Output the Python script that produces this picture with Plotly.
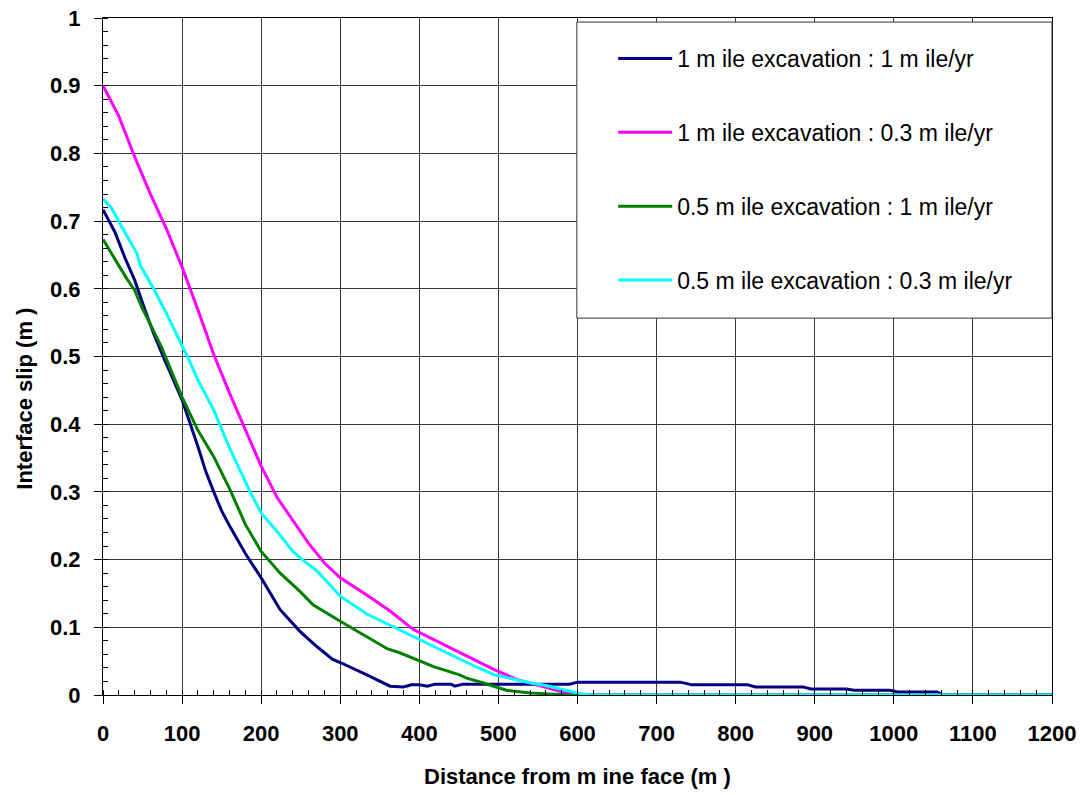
import plotly.graph_objects as go

# Interface slip versus distance from the mine face, four excavation scenarios
dist_1mi_1 = [0, 15, 28, 40, 53, 64, 76, 100, 120, 130, 140, 150, 160, 180, 200,
              224, 249, 270, 290, 300, 333, 350, 363, 380, 390, 400, 410, 420, 440,
              445, 455, 590, 600, 730, 745, 815, 825, 885, 895, 940, 950, 995, 1005,
              1055, 1062, 1200]
slip_1mi_1 = [0.717, 0.684, 0.645, 0.613, 0.569, 0.534, 0.500, 0.436, 0.367,
              0.330, 0.300, 0.272, 0.250, 0.209, 0.173, 0.126, 0.094, 0.072, 0.053,
              0.048, 0.030, 0.021, 0.013, 0.012, 0.015, 0.015, 0.013, 0.016, 0.016,
              0.013, 0.016, 0.016, 0.019, 0.019, 0.015, 0.015, 0.012, 0.012, 0.009,
              0.009, 0.007, 0.007, 0.0045, 0.0045, 0.0, 0.0]

dist_1mi_03 = [0, 20, 40, 60, 80, 100, 120, 140, 160, 180, 200, 220, 240,
               260, 280, 300, 333, 363, 392, 426, 460, 494, 523, 553, 586, 600, 1200]
slip_1mi_03 = [0.900, 0.855, 0.795, 0.740, 0.689, 0.632, 0.569, 0.503,
               0.446, 0.391, 0.338, 0.292, 0.258, 0.224, 0.195, 0.173, 0.148, 0.124,
               0.097, 0.077, 0.057, 0.038, 0.023, 0.013, 0.003, 0.0, 0.0]

dist_05mi_1 = [0, 15, 30, 40, 49, 57, 74, 80, 100, 120, 140, 160, 180, 200, 224, 249,
               266, 300, 333, 360, 376, 418, 450, 460, 480, 494, 510, 540, 570, 590,
               1200]
slip_05mi_1 = [0.673, 0.643, 0.615, 0.598, 0.573, 0.554, 0.514, 0.497, 0.440, 0.391,
               0.352, 0.305, 0.252, 0.212, 0.180, 0.153, 0.133, 0.109, 0.087, 0.068,
               0.062, 0.042, 0.030, 0.025, 0.018, 0.013, 0.007, 0.003, 0.001, 0.0,
               0.0]

dist_05mi_03 = [0, 11, 24, 43, 47, 64, 80, 95, 108, 120, 140, 160, 186, 200, 224,
                240, 255, 270, 300, 333, 368, 400, 435, 460, 494, 540, 560, 580, 600,
                615, 1200]
slip_05mi_03 = [0.733, 0.719, 0.691, 0.652, 0.635, 0.600, 0.564, 0.529, 0.497, 0.465,
                0.421, 0.365, 0.300, 0.269, 0.236, 0.212, 0.197, 0.184, 0.146, 0.120,
                0.100, 0.082, 0.062, 0.048, 0.030, 0.018, 0.014, 0.008, 0.003, 0.0,
                0.0]

series_names = [
    "1 m ile excavation : 1 m ile/yr",
    "1 m ile excavation : 0.3 m ile/yr",
    "0.5 m ile excavation : 1 m ile/yr",
    "0.5 m ile excavation : 0.3 m ile/yr",
]
series_colors = ["#000080", "#FF00FF", "#008000", "#00FFFF"]
series_x = [dist_1mi_1, dist_1mi_03, dist_05mi_1, dist_05mi_03]
series_y = [slip_1mi_1, slip_1mi_03, slip_05mi_1, slip_05mi_03]

x_ticks = list(range(0, 1201, 100))
y_ticks = [round(0.1 * i, 1) for i in range(11)]

FONT = "Liberation Sans, Arial, sans-serif"
GRID = "#3a3a3a"

fig = go.Figure()
for xs, ys, name, color in zip(series_x, series_y, series_names, series_colors):
    fig.add_trace(go.Scatter(
        x=xs, y=ys, mode="lines", name=name,
        line=dict(color=color, width=3),
        legendgroup=name, cliponaxis=False,
    ))

axis_common = dict(
    showgrid=True, gridcolor=GRID, gridwidth=1,
    showline=True, linecolor="black", linewidth=1, mirror=True,
    ticks="outside", ticklen=8, tickcolor="black", tickwidth=1,
    zeroline=False, automargin=False,
    tickfont=dict(family=FONT, size=22, color="black", weight="bold"),
)

fig.update_xaxes(
    range=[0, 1200], tickmode="array", tickvals=x_ticks,
    ticktext=[str(v) for v in x_ticks],
    minor=dict(dtick=20, tick0=0, ticks="inside", ticklen=5, tickcolor="black",
               showgrid=False),
    ticklabelstandoff=11,
    **axis_common,
)
fig.update_yaxes(
    range=[0, 1], tickmode="array", tickvals=y_ticks,
    ticktext=[("%g" % v) for v in y_ticks],
    minor=dict(dtick=0.02, tick0=0, ticks="inside", ticklen=5, tickcolor="black",
               showgrid=False),
    ticklabelstandoff=9,
    **axis_common,
)

# white legend frame over the grid
fig.add_shape(type="rect", xref="paper", yref="paper",
              x0=0.4993, x1=1.0, y0=0.5567, y1=0.994,
              line=dict(color="#333333", width=1), fillcolor="white", layer="above")

fig.update_layout(
    width=1083, height=795,
    margin=dict(l=103, r=31, t=18, b=100, autoexpand=False),
    paper_bgcolor="white", plot_bgcolor="white",
    font=dict(family=FONT, color="black"),
    showlegend=True,
    legend=dict(
        x=0.5376, y=0.972, xanchor="left", yanchor="top",
        bgcolor="rgba(0,0,0,0)", borderwidth=0,
        font=dict(family=FONT, size=23, color="black"),
        tracegroupgap=41, itemwidth=54,
    ),
    annotations=[
        dict(text="Distance from m ine face (m )", xref="paper", yref="paper",
             x=0.5, y=-0.12, xanchor="center", yanchor="middle", showarrow=False,
             font=dict(family=FONT, size=22, color="black", weight="bold")),
        dict(text="Interface slip (m )", xref="paper", yref="paper",
             x=-0.0822, y=0.4376, xanchor="center", yanchor="middle",
             textangle=-90, showarrow=False,
             font=dict(family=FONT, size=22, color="black", weight="bold")),
    ],
)

fig.write_html("out.html")
